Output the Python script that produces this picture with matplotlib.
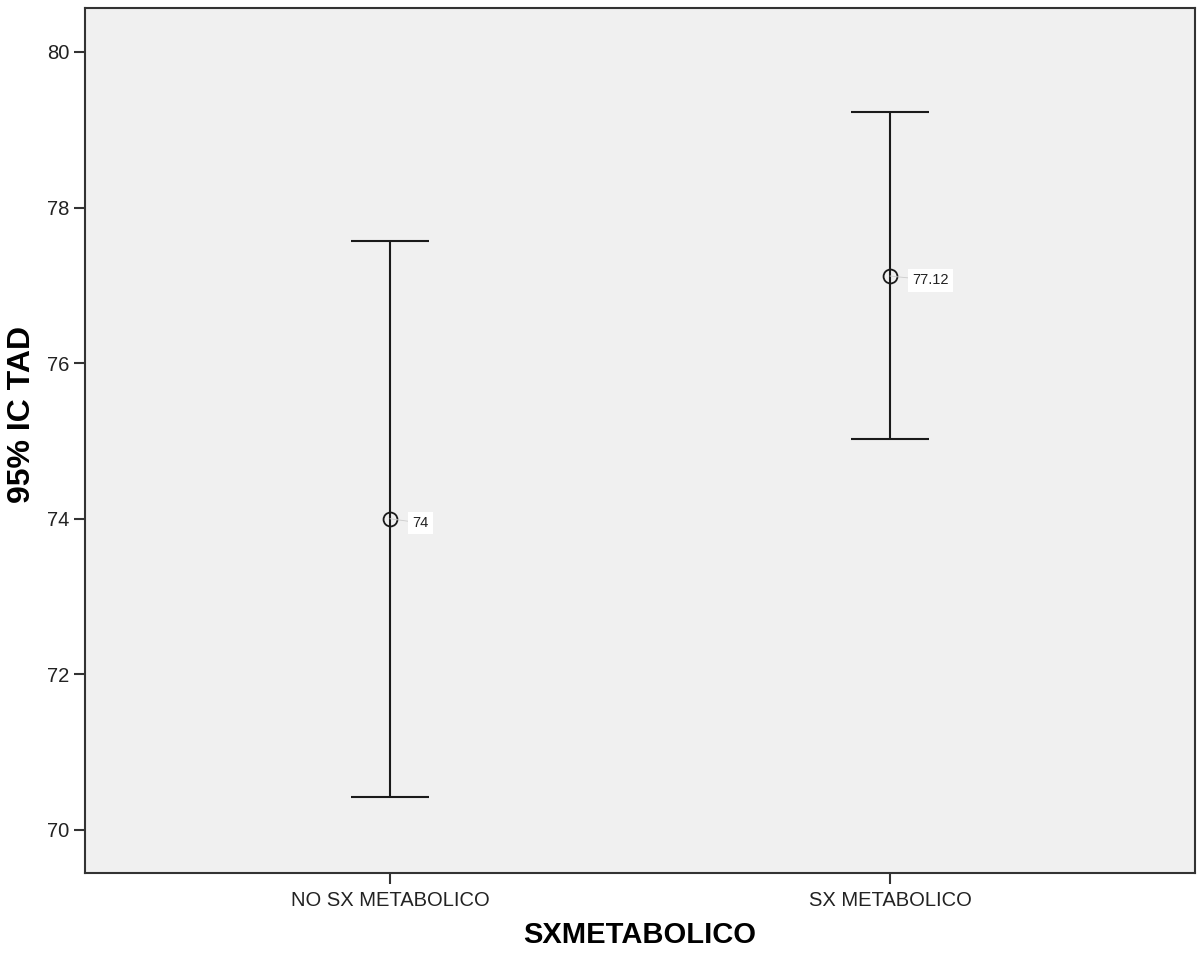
import matplotlib.pyplot as plt

plt.rcParams['font.family'] = ['Liberation Sans', 'DejaVu Sans']

categories = ["NO SX METABOLICO", "SX METABOLICO"]
means = [74.00, 77.12]
lower = [70.42, 75.03]
upper = [77.57, 79.23]
mean_labels = ["74", "77.12"]

fig = plt.figure(figsize=(11.97, 9.55), dpi=100)
ax = fig.add_axes([0.0710, 0.0859, 0.9273, 0.9058])
ax.set_facecolor("#f0f0f0")

x = list(range(len(categories)))
err_lo = [m - l for m, l in zip(means, lower)]
err_hi = [u - m for m, u in zip(means, upper)]
ax.errorbar(x, means, yerr=[err_lo, err_hi], fmt="none", ecolor="#1a1a1a",
            elinewidth=1.5, capsize=28, capthick=1.5)
ax.plot(x, means, "o", markersize=10, markerfacecolor="none",
        markeredgecolor="#1a1a1a", markeredgewidth=1.3)

for xi, m, lab in zip(x, means, mean_labels):
    ax.annotate(lab, (xi, m), xytext=(16, -3), textcoords="offset points",
                ha="left", va="center", fontsize=10.5, color="#222222",
                bbox=dict(boxstyle="square,pad=0.3", fc="white", ec="none"),
                arrowprops=dict(arrowstyle="-", color="#cccccc", lw=0.6,
                                shrinkA=0, shrinkB=0))

ax.set_xlim(-0.61, 1.61)
ax.set_ylim(69.447, 80.566)
ax.set_xticks(x)
ax.set_xticklabels(categories)
ax.set_yticks([70, 72, 74, 76, 78, 80])

for s in ax.spines.values():
    s.set_color("#333333")
    s.set_linewidth(1.5)

ax.tick_params(axis="both", direction="out", length=8, width=1.5,
               color="#333333", labelsize=14.5, labelcolor="#222222")
ax.tick_params(axis="x", pad=5)

ax.set_xlabel("SXMETABOLICO", fontsize=21, fontweight="bold", labelpad=8)
ax.set_ylabel("95% IC TAD", fontsize=23, fontweight="bold", va="center")
ax.yaxis.set_label_coords(-0.0568, 0.530)

fig.savefig("out.png", dpi=100)
